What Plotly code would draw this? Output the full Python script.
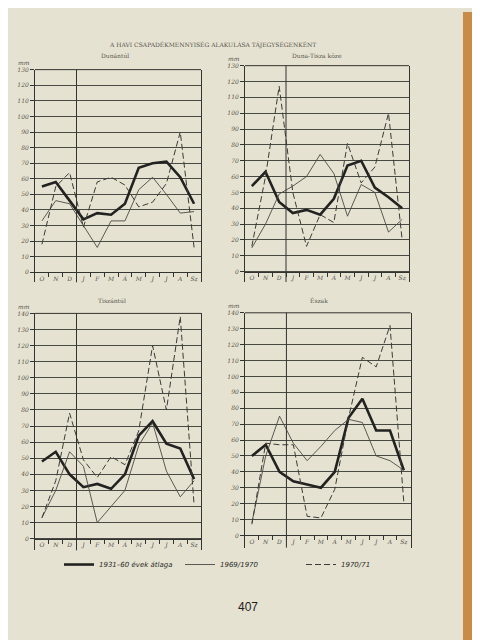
import plotly.graph_objects as go

months = ["O", "N", "D", "J", "F", "M", "Á", "M", "J", "J", "A", "Sz"]
regions = ["Dunántúl", "Duna-Tisza köze", "Tiszántúl", "Észak"]
series_names = ["1931–60 évek átlaga", "1969/1970", "1970/71"]

# monthly precipitation (mm), October .. September
avg_dunantul = [55, 58, 46, 34, 38, 37, 44, 67, 70, 71, 61, 44]
y6970_dunantul = [33, 46, 44, 30, 16, 33, 33, 53, 61, 50, 38, 39]
y7071_dunantul = [18, 55, 64, 29, 58, 61, 56, 42, 45, 57, 90, 16]

avg_dtk = [54, 63, 44, 37, 39, 36, 46, 67, 70, 53, 47, 40]
y6970_dtk = [15, 30, 49, 54, 60, 74, 62, 35, 55, 50, 25, 33]
y7071_dtk = [16, 60, 117, 50, 16, 36, 31, 81, 56, 66, 100, 20]

avg_tisza = [48, 54, 40, 32, 34, 31, 40, 64, 73, 59, 56, 37]
y6970_tisza = [13, 30, 54, 45, 10, 20, 30, 58, 72, 42, 26, 36]
y7071_tisza = [13, 36, 78, 49, 38, 51, 46, 67, 120, 80, 138, 21]

avg_eszak = [50, 57, 40, 34, 32, 30, 40, 74, 86, 66, 66, 41]
y6970_eszak = [8, 50, 75, 58, 47, 56, 66, 73, 71, 50, 47, 41]
y7071_eszak = [7, 58, 57, 57, 12, 11, 29, 74, 112, 106, 132, 21]

y_top_top = 130
y_top_bottom = 140

data = [
    (avg_dunantul, y6970_dunantul, y7071_dunantul),
    (avg_dtk, y6970_dtk, y7071_dtk),
    (avg_tisza, y6970_tisza, y7071_tisza),
    (avg_eszak, y6970_eszak, y7071_eszak),
]

W, H = 480, 640
# panel geometry in pixels: left, right, top (max value line), zero line, bottom of label band
panels = [
    dict(l=27, r=193, top=58, zero=262, bot=272, ymax=y_top_top),
    dict(l=237, r=401, top=54, zero=261.3, bot=271.7, ymax=y_top_top),
    dict(l=27, r=193, top=303.3, zero=530, bot=541.7, ymax=y_top_bottom),
    dict(l=237, r=402.7, top=302.7, zero=526.7, bot=539, ymax=y_top_bottom),
]
title_pos = [(107, 44), (309, 44), (104, 290), (311, 290)]

ink = "#33332f"
grid = "#4a4a44"
txt = "#55554e"

fig = go.Figure()
x_idx = list(range(len(months)))
styles = [
    dict(color="#222220", width=2.6, dash="solid"),
    dict(color="#4a4a44", width=0.9, dash="solid"),
    dict(color="#3a3a36", width=1.0, dash="6px,3px"),
]

for i, (p, series) in enumerate(zip(panels, data)):
    n = i + 1
    xa = "x" if n == 1 else f"x{n}"
    ya = "y" if n == 1 else f"y{n}"
    for k, (vals, st) in enumerate(zip(series, styles)):
        fig.add_trace(go.Scatter(
            x=x_idx, y=vals, mode="lines", line=st,
            name=series_names[k], showlegend=(i == 0), legendrank=k,
            xaxis=xa, yaxis=ya, hoverinfo="skip"))
    scale = (p["zero"] - p["top"]) / p["ymax"]
    ymin = -(p["bot"] - p["zero"]) / scale
    xd = [p["l"] / W, p["r"] / W]
    yd = [1 - p["bot"] / H, 1 - p["top"] / H]
    fig.layout[f"xaxis{'' if n == 1 else n}"] = dict(
        domain=xd, range=[-0.5, 11.5], anchor="free", position=1 - p["zero"] / H,
        tickmode="array", tickvals=x_idx, ticktext=months, ticks="",
        showline=True, linecolor=ink, linewidth=1, showgrid=False, zeroline=False,
        tickfont=dict(family="DejaVu Serif", size=6, color=txt, style="italic"),
        minor=dict(tickmode="array", tickvals=[j + 0.5 for j in range(11)],
                   ticks="outside", ticklen=4, tickcolor=ink, tickwidth=1),
        fixedrange=True)
    fig.layout[f"yaxis{'' if n == 1 else n}"] = dict(
        domain=yd, range=[ymin, p["ymax"]], anchor=xa,
        tickmode="array", tickvals=list(range(0, p["ymax"] + 1, 10)),
        ticks="outside", ticklen=4, tickcolor=ink,
        showline=True, mirror=True, linecolor=ink, linewidth=1,
        showgrid=True, gridcolor=grid, gridwidth=1, zeroline=False,
        tickfont=dict(family="DejaVu Serif", size=6, color=txt, style="italic"),
        fixedrange=True)
    fig.add_shape(type="line", xref=xa, yref=f"{ya} domain", x0=2.5, x1=2.5, y0=0, y1=1,
                  line=dict(color=ink, width=1))
    fig.add_shape(type="line", xref=f"{xa} domain", yref="paper", x0=0, x1=1,
                  y0=1 - p["top"] / H, y1=1 - p["top"] / H, line=dict(color=ink, width=1))
    fig.add_annotation(x=(p["l"] - 3) / W, y=1 - (p["top"] - 7) / H, xref="paper", yref="paper",
                       text="mm", showarrow=False, xanchor="right", yanchor="middle",
                       font=dict(family="DejaVu Serif", size=6, color=txt, style="italic"))
    tx, ty = title_pos[i]
    fig.add_annotation(x=tx / W, y=1 - ty / H, xref="paper", yref="paper",
                       text=regions[i], showarrow=False, xanchor="center", yanchor="middle",
                       font=dict(family="DejaVu Serif", size=6, color=txt))

fig.add_annotation(x=204 / W, y=1 - 33 / H, xref="paper", yref="paper",
                   text="A HAVI CSAPADÉKMENNYISÉG ALAKULÁSA TÁJEGYSÉGENKÉNT",
                   showarrow=False, xanchor="center", yanchor="middle",
                   font=dict(family="DejaVu Serif", size=6, color=txt))
fig.add_annotation(x=240 / W, y=1 - 599 / H, xref="paper", yref="paper", text="407",
                   showarrow=False, xanchor="center", yanchor="middle",
                   font=dict(family="Liberation Sans", size=12, color="#1e1e1c"))

# wooden table edge on the right of the photographed page
fig.add_shape(type="rect", xref="paper", yref="paper", x0=455 / W, x1=1, y0=0, y1=1,
              line=dict(width=0), fillcolor="#c98c48", layer="below")

fig.update_layout(
    width=W, height=H, margin=dict(l=0, r=0, t=0, b=0),
    paper_bgcolor="#e6e2d1", plot_bgcolor="rgba(0,0,0,0)",
    showlegend=True,
    legend=dict(orientation="h", x=51 / W, y=1 - 556 / H, xanchor="left", yanchor="middle",
                bgcolor="rgba(0,0,0,0)", entrywidth=76, entrywidthmode="pixels",
                itemwidth=30, tracegroupgap=0,
                font=dict(family="DejaVu Sans", size=7, color="#2a2a28", style="italic")),
)

fig.write_html("out.html")
